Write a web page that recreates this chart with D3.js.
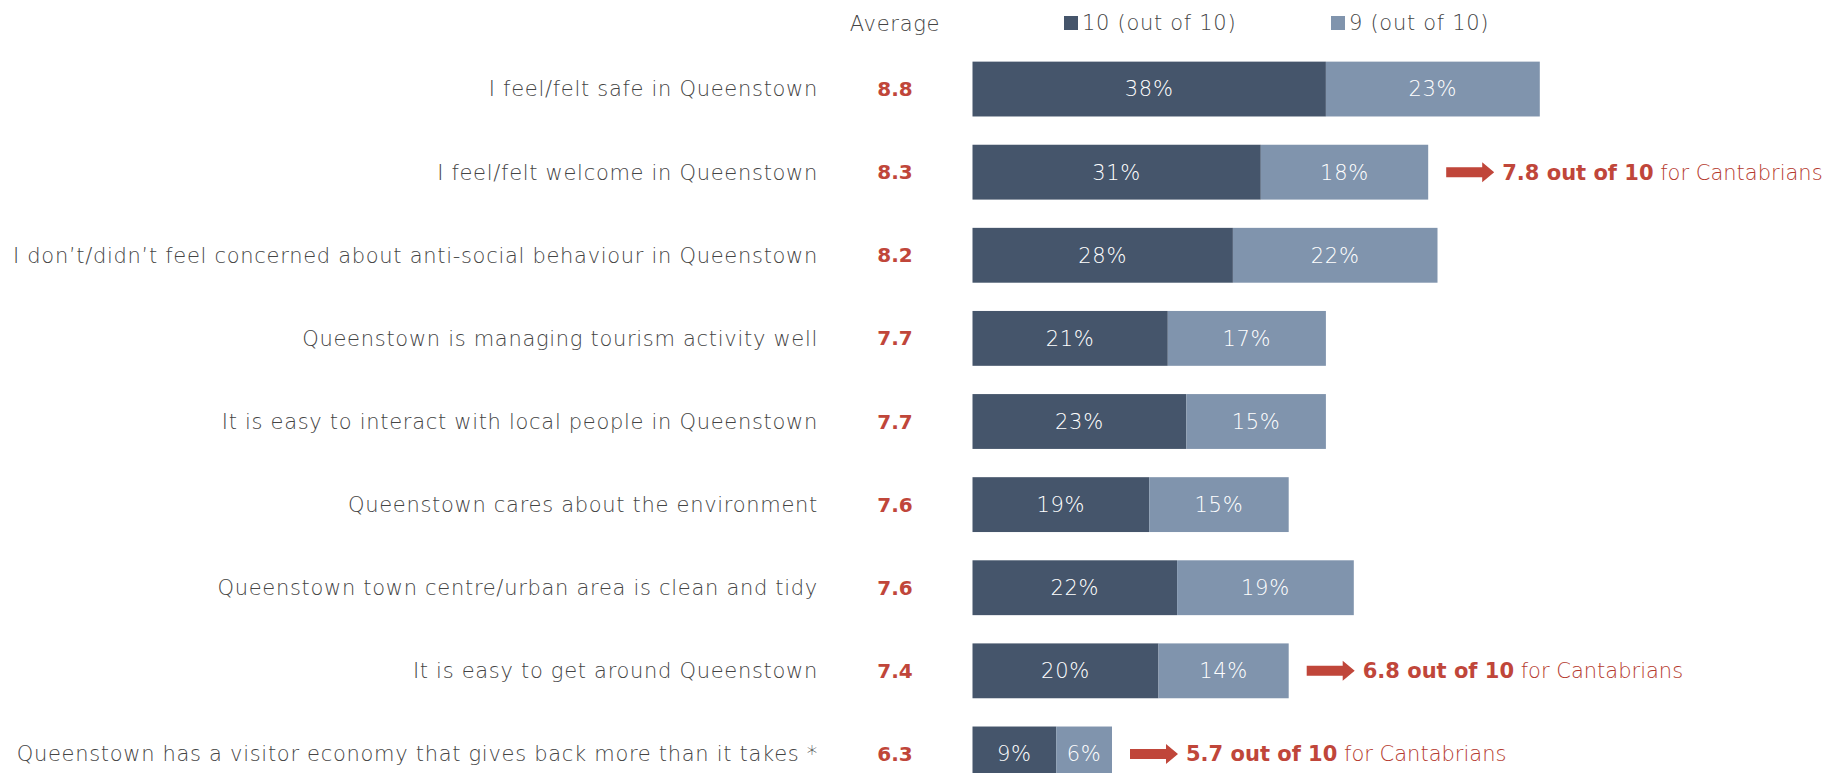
<!DOCTYPE html>
<html>
<head>
<meta charset="utf-8">
<script src="https://cdn.jsdelivr.net/npm/d3@7"></script>
<style>
  body { margin: 0; background: #fff; }
  svg { display: block; font-family: "DejaVu Sans", sans-serif; }
  .light { font-weight: 200; letter-spacing: 0.7px; }
  .note-light { font-weight: 200; letter-spacing: 0; }
</style>
</head>
<body>
<svg id="chart" width="1835" height="773"></svg>
<script>
// statements, top to bottom
var statements = [
    "I feel/felt safe in Queenstown",
    "I feel/felt welcome in Queenstown",
    "I don\u2019t/didn\u2019t feel concerned about anti-social behaviour in Queenstown",
    "Queenstown is managing tourism activity well",
    "It is easy to interact with local people in Queenstown",
    "Queenstown cares about the environment",
    "Queenstown town centre/urban area is clean and tidy",
    "It is easy to get around Queenstown",
    "Queenstown has a visitor economy that gives back more than it takes *"
];
var averages = ["8.8", "8.3", "8.2", "7.7", "7.7", "7.6", "7.6", "7.4", "6.3"];
var score10 = [38, 31, 28, 21, 23, 19, 22, 20, 9];
var score9 = [23, 18, 22, 17, 15, 15, 19, 14, 6];
// Cantabrian comparison, only where it was called out
var cantabrians = [null, "7.8", null, null, null, null, null, "6.8", "5.7"];
var seriesNames = ["10 (out of 10)", "9 (out of 10)"];

var colors = { ten: "#45556b", nine: "#8094ad", red: "#c0463a", text: "#444" };

var svg = d3.select("#chart");

var x = d3.scaleLinear().domain([0, 100]).range([972.5, 1902.5]);
var y = d3.scaleBand()
    .domain(d3.range(statements.length))
    .range([47.5, 795.5])
    .paddingInner(0.34)
    .paddingOuter(0.17);

var rows = statements.map(function(s, i) {
    return { label: s, avg: averages[i], ten: score10[i], nine: score9[i], cant: cantabrians[i], i: i };
});

function mid(d) { return y(d.i) + y.bandwidth() / 2; }

// header + legend
svg.append("text")
    .attr("class", "light")
    .attr("x", 895).attr("y", 31)
    .attr("text-anchor", "middle")
    .attr("font-size", 21)
    .attr("fill", colors.text)
    .text("Average");

var legend = svg.selectAll("g.legend")
    .data(seriesNames)
    .enter().append("g")
    .attr("transform", function(d, i) { return "translate(" + [1064, 1331][i] + ",0)"; });

legend.append("rect")
    .attr("y", 16).attr("width", 14).attr("height", 14)
    .attr("fill", function(d, i) { return i === 0 ? colors.ten : colors.nine; });

legend.append("text")
    .attr("class", "light")
    .attr("x", 18).attr("y", 30)
    .attr("font-size", 21)
    .attr("fill", colors.text)
    .text(function(d) { return d; });

var row = svg.selectAll("g.row")
    .data(rows)
    .enter().append("g")
    .attr("class", "row");

row.append("text")
    .attr("class", "light")
    .attr("x", 818)
    .attr("y", mid)
    .attr("dy", "0.35em")
    .attr("text-anchor", "end")
    .attr("font-size", 21)
    .attr("fill", colors.text)
    .text(function(d) { return d.label; });

row.append("text")
    .attr("x", 895)
    .attr("y", mid)
    .attr("dy", "0.35em")
    .attr("text-anchor", "middle")
    .attr("font-size", 20)
    .attr("font-weight", "bold")
    .attr("fill", colors.red)
    .text(function(d) { return d.avg; });

row.append("rect")
    .attr("x", x(0))
    .attr("y", function(d) { return y(d.i); })
    .attr("width", function(d) { return x(d.ten) - x(0); })
    .attr("height", y.bandwidth())
    .attr("fill", colors.ten);

row.append("rect")
    .attr("x", function(d) { return x(d.ten); })
    .attr("y", function(d) { return y(d.i); })
    .attr("width", function(d) { return x(d.ten + d.nine) - x(d.ten); })
    .attr("height", y.bandwidth())
    .attr("fill", colors.nine);

row.append("text")
    .attr("class", "light")
    .attr("x", function(d) { return (x(0) + x(d.ten)) / 2; })
    .attr("y", mid)
    .attr("dy", "0.35em")
    .attr("text-anchor", "middle")
    .attr("font-size", 21)
    .attr("fill", "#fff")
    .text(function(d) { return d.ten + "%"; });

row.append("text")
    .attr("class", "light")
    .attr("x", function(d) { return (x(d.ten) + x(d.ten + d.nine)) / 2; })
    .attr("y", mid)
    .attr("dy", "0.35em")
    .attr("text-anchor", "middle")
    .attr("font-size", 21)
    .attr("fill", "#fff")
    .text(function(d) { return d.nine + "%"; });

// cantabrian call-outs
var note = row.filter(function(d) { return d.cant; });

note.append("path")
    .attr("fill", colors.red)
    .attr("d", function(d) {
        var x0 = x(d.ten + d.nine) + 18, cy = mid(d);
        return "M" + x0 + "," + (cy - 5) + "H" + (x0 + 36) + "V" + (cy - 10) +
            "L" + (x0 + 48) + "," + cy + "L" + (x0 + 36) + "," + (cy + 10) +
            "V" + (cy + 5) + "H" + x0 + "Z";
    });

var noteText = note.append("text")
    .attr("x", function(d) { return x(d.ten + d.nine) + 74; })
    .attr("y", mid)
    .attr("dy", "0.35em")
    .attr("font-size", 21)
    .attr("fill", colors.red);

noteText.append("tspan")
    .attr("font-weight", "bold")
    .text(function(d) { return d.cant + " out of 10"; });

noteText.append("tspan")
    .attr("class", "note-light")
    .attr("fill", "#b53a2e")
    .text(" for Cantabrians");
</script>
</body>
</html>
